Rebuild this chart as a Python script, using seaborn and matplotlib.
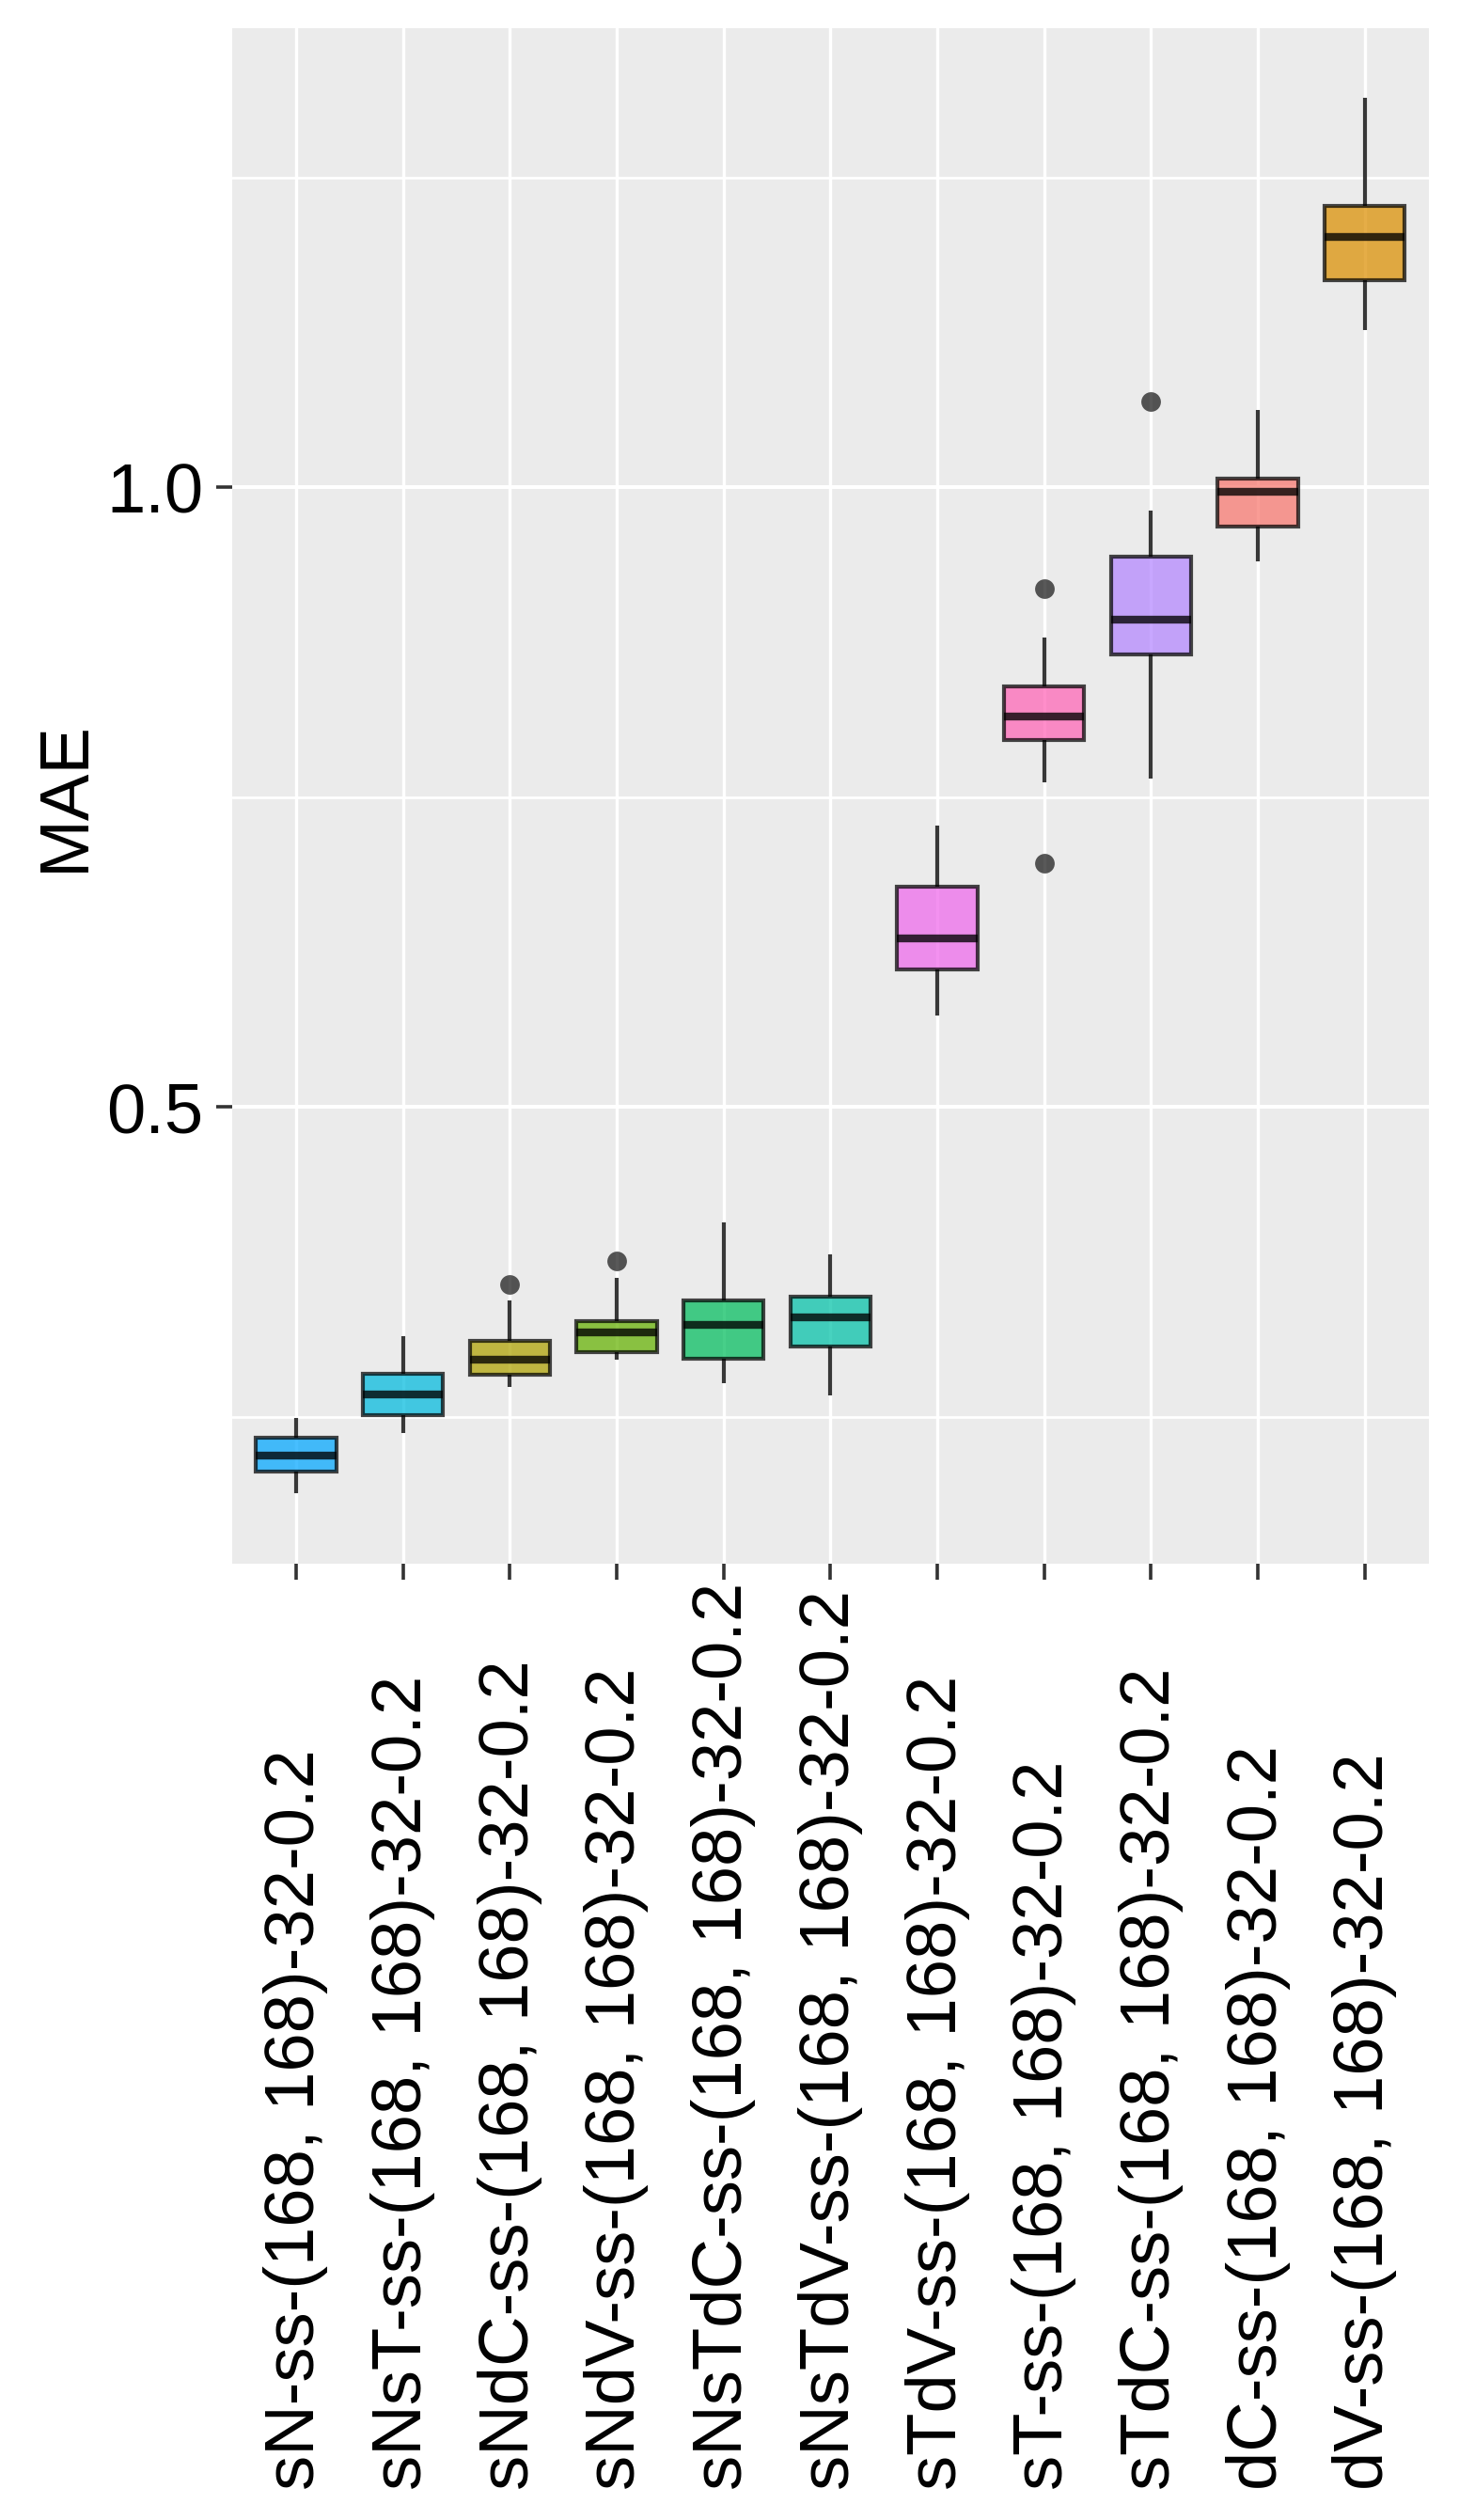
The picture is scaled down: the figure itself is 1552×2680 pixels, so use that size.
import numpy as np
import pandas as pd
import seaborn as sns
import matplotlib.pyplot as plt
from matplotlib.ticker import FixedLocator

# --- data ---
models = ["sN", "sNsT", "sNdC", "sNdV", "sNsTdC", "sNsTdV", "sTdV", "sT", "sTdC", "dC", "dV"]
suffix = "-ss-(168, 168)-32-0.2"
labels = [m + suffix for m in models]

# box summaries per model
whisker_low = [0.188, 0.237, 0.274, 0.296, 0.277, 0.267, 0.574, 0.762, 0.765, 0.940, 1.127]
q1 = [0.206, 0.251, 0.284, 0.302, 0.297, 0.307, 0.611, 0.796, 0.865, 0.968, 1.167]
median = [0.219, 0.268, 0.296, 0.318, 0.324, 0.330, 0.636, 0.815, 0.893, 0.996, 1.202]
q3 = [0.233, 0.285, 0.311, 0.327, 0.344, 0.347, 0.678, 0.839, 0.944, 1.007, 1.227]
whisker_high = [0.249, 0.315, 0.344, 0.362, 0.407, 0.381, 0.727, 0.879, 0.981, 1.0625, 1.314]
outliers = {"sNdC": [0.357], "sNdV": [0.376], "sT": [0.697, 0.918], "sTdC": [1.069]}

# ggplot hue colours as they were assigned to the models
colors = ["#00A6FF", "#00BADE", "#AEA200", "#64B200", "#00BD5C", "#00C1A7",
          "#EF67EB", "#FF63B6", "#B385FF", "#F8766D", "#DB8E00"]

# observations that reproduce each box (quartiles land on the repeated values)
rows = []
for i, m in enumerate(models):
    vals = [whisker_low[i], q1[i], q1[i], median[i], median[i], q3[i], q3[i], whisker_high[i]]
    vals += outliers.get(m, [])
    for v in vals:
        rows.append({"model": labels[i], "MAE": v})
df = pd.DataFrame(rows)

# --- plot ---
sns.set_style("darkgrid", {"axes.facecolor": "#EBEBEB", "grid.color": "white"})
plt.rcParams["font.family"] = ["Liberation Sans", "DejaVu Sans"]

W, H = 1552, 2680
fig = plt.figure(figsize=(W / 100, H / 100), dpi=100)
left, right, top, bottom = 246.7, 1520, 30, 1662.7
ax = fig.add_axes([left / W, 1 - bottom / H, (right - left) / W, (bottom - top) / H])

line_rgba = (0, 0, 0, 0.78)
sns.boxplot(
    data=df, x="model", y="MAE", hue="model",
    order=labels, hue_order=labels,
    palette=dict(zip(labels, colors)), saturation=1,
    width=0.75, linewidth=3.0, linecolor=line_rgba,
    showcaps=False,
    medianprops=dict(linewidth=6.0),
    flierprops=dict(marker="o", markersize=15, markerfacecolor=(0, 0, 0, 0.65),
                    markeredgecolor="none"),
    legend=False, ax=ax,
)
for p in ax.patches:
    p.set_alpha(0.72)

# ggplot-like limits (5% expansion on y, 0.6 on the discrete x)
lo, hi = df["MAE"].min(), df["MAE"].max()
pad = 0.05 * (hi - lo)
ax.set_ylim(lo - pad, hi + pad)
ax.set_xlim(-0.6, len(labels) - 0.4)

# grid
ax.set_axisbelow(True)
ax.yaxis.set_major_locator(FixedLocator([0.5, 1.0]))
ax.yaxis.set_minor_locator(FixedLocator([0.25, 0.75, 1.25]))
ax.grid(False)
ax.grid(which="major", axis="y", color="white", lw=2.9)
ax.grid(which="minor", axis="y", color="white", lw=2.0)
ax.grid(which="major", axis="x", color="white", lw=2.4)
for s in ax.spines.values():
    s.set_visible(False)

fs = 53.5
ax.tick_params(axis="both", which="major", bottom=True, left=True,
               color="#333333", width=2.6, length=12.2,
               labelsize=fs, labelcolor="black")
ax.tick_params(axis="y", which="minor", left=False, length=0)
ax.tick_params(axis="y", pad=9.8)
ax.tick_params(axis="x", pad=697.5)
ax.set_yticks([0.5, 1.0], ["0.5", "1.0"])
ax.set_xticks(range(len(labels)), labels, rotation=90, va="bottom", ha="center")

ax.set_xlabel("")
ax.set_ylabel("MAE", fontsize=fs, va="center", color="black")
ax.yaxis.set_label_coords(-0.1396, 0.5)

fig.savefig("out.png", dpi=100)
plt.close(fig)
